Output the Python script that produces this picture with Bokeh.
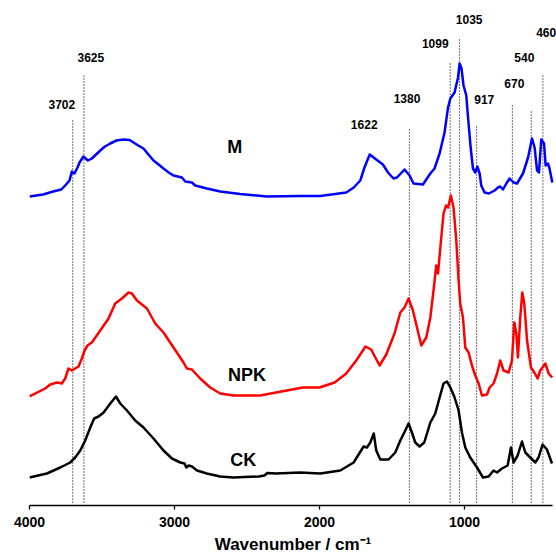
from bokeh.plotting import figure
from bokeh.models import Range1d, FixedTicker
from bokeh.core.properties import value
from bokeh.embed import file_html
from bokeh.resources import INLINE

# ---- data (wavenumber cm-1, stacked absorbance) ----
m_wn = [4000, 3906, 3837, 3781, 3754, 3724, 3708, 3690, 3669, 3655, 3628, 3597, 3570, 3512, 3480, 3443,
        3400, 3352, 3310, 3283, 3250, 3214, 3180, 3145, 3110, 3076, 3040, 3007, 2949, 2926, 2880, 2857,
        2777, 2685, 2547, 2363, 2133, 1995, 1816,
        1764, 1719, 1690, 1654, 1609, 1563, 1528, 1490, 1466, 1414, 1379, 1352, 1287, 1236, 1207, 1172,
        1138, 1114, 1098, 1069, 1045, 1034, 1021, 1007, 988, 976, 958, 942, 926, 912, 896, 885, 862, 832,
        793, 769, 754, 735, 712, 689, 662, 638, 597, 562, 535, 517, 500, 487, 471, 452, 441, 425, 414, 395]
m_ab = [3.09, 3.11, 3.14, 3.16, 3.20, 3.25, 3.34, 3.32, 3.38, 3.43, 3.49, 3.45, 3.47, 3.55, 3.59, 3.62,
        3.65, 3.66, 3.655, 3.63, 3.60, 3.57, 3.51, 3.45, 3.41, 3.37, 3.33, 3.30, 3.28, 3.24, 3.23, 3.20,
        3.17, 3.14, 3.115, 3.09, 3.095, 3.095, 3.13,
        3.18, 3.25, 3.38, 3.51, 3.46, 3.41, 3.33, 3.27, 3.28, 3.36, 3.30, 3.22, 3.21, 3.32, 3.37, 3.52,
        3.73, 3.98, 4.07, 4.13, 4.28, 4.42, 4.37, 4.20, 4.10, 3.88, 3.58, 3.37, 3.33, 3.39, 3.32, 3.20, 3.13, 3.12,
        3.15, 3.18, 3.19, 3.16, 3.22, 3.27, 3.23, 3.22, 3.32, 3.48, 3.67, 3.58, 3.35, 3.33, 3.66, 3.62, 3.40, 3.42, 3.37, 3.23]

npk_wn = [4000, 3892, 3857, 3811, 3777, 3754, 3731, 3708, 3662, 3639, 3620, 3600, 3570, 3512, 3455, 3409,
          3363, 3317, 3294, 3259, 3190, 3133, 3076, 3007, 2938, 2915, 2880, 2823, 2754, 2685, 2593, 2409,
          2300, 2115, 2000, 1896, 1816, 1747, 1683, 1644, 1586, 1540, 1483, 1443, 1414, 1386, 1356, 1328,
          1298, 1264, 1236, 1214, 1195, 1183, 1167, 1145, 1128, 1114, 1094, 1076, 1057, 1041, 1030, 1011, 995,
          972, 949, 926, 903, 880, 845, 827, 800, 776, 754, 731, 696, 673, 657, 643, 632, 616, 602, 588,
          569, 542, 519, 496, 478, 443, 420, 395]
npk_ab = [1.09, 1.17, 1.21, 1.23, 1.22, 1.27, 1.37, 1.35, 1.39, 1.47, 1.55, 1.60, 1.63, 1.75, 1.87, 2.02,
          2.07, 2.13, 2.12, 2.05, 1.97, 1.82, 1.73, 1.58, 1.43, 1.37, 1.36, 1.27, 1.18, 1.12, 1.10, 1.10,
          1.13, 1.18, 1.18, 1.23, 1.32, 1.45, 1.59, 1.56, 1.40, 1.51, 1.72, 1.93, 1.98, 2.07, 1.95, 1.78,
          1.60, 1.68, 1.88, 2.15, 2.40, 2.32, 2.58, 2.92, 3.00, 2.98, 3.10, 2.98, 2.65, 2.25, 2.02, 1.88, 1.58,
          1.53, 1.40, 1.30, 1.22, 1.10, 1.11, 1.18, 1.22, 1.32, 1.45, 1.35, 1.33, 1.45, 1.83, 1.72, 1.48, 1.88, 2.13, 2.02,
          1.65, 1.38, 1.33, 1.27, 1.35, 1.42, 1.32, 1.28]

ck_wn = [4000, 3880, 3788, 3719, 3685, 3650, 3616, 3581, 3554, 3524, 3489, 3443, 3404, 3374, 3328, 3271,
         3214, 3145, 3076, 3018, 2960, 2931, 2919, 2903, 2880, 2845, 2777, 2685, 2595, 2420, 2380, 2360,
         2300, 2133, 1995, 1857, 1765, 1696, 1673,
         1650, 1626, 1609, 1581, 1524, 1478, 1443, 1409, 1386, 1363, 1340, 1310, 1278, 1236, 1202, 1172,
         1145, 1121, 1098, 1071, 1041, 1018, 995, 961, 914, 873, 834, 800, 776, 742, 703, 680, 662, 634,
         604, 581, 547, 512, 490, 462, 432, 397]
ck_ab = [0.28, 0.32, 0.38, 0.43, 0.48, 0.55, 0.65, 0.78, 0.87, 0.89, 0.93, 1.02, 1.09, 1.02, 0.95, 0.85,
         0.78, 0.67, 0.55, 0.47, 0.43, 0.42, 0.38, 0.40, 0.39, 0.35, 0.32, 0.29, 0.28, 0.29, 0.30, 0.325,
         0.32, 0.33, 0.32, 0.35, 0.43, 0.59, 0.58,
         0.63, 0.72, 0.55, 0.46, 0.46, 0.53, 0.65, 0.75, 0.82, 0.73, 0.63, 0.59, 0.63, 0.83, 0.92, 1.08,
         1.22, 1.24, 1.18, 1.09, 0.95, 0.73, 0.58, 0.48, 0.38, 0.28, 0.29, 0.35, 0.33, 0.37, 0.40, 0.58, 0.43, 0.50,
         0.64, 0.53, 0.48, 0.43, 0.48, 0.61, 0.56, 0.42]

# marked bands
band_wn = [3702, 3625, 1380, 1099, 1035, 917, 670, 540, 460]
band_top = [3.87, 4.32, 3.77, 4.44, 4.68, 3.80, 4.02, 3.96, 4.31]

# band labels
lab_text = ["3702", "3625", "1622", "1380", "1099", "1035", "917", "670", "540", "460"]
lab_wn = [3777, 3577, 1692, 1397, 1202, 968, 864, 657, 588, 437]
lab_y = [4.01, 4.48, 3.81, 4.07, 4.62, 4.86, 4.06, 4.22, 4.48, 4.73]

# series names
ser_text = ["M", "NPK", "CK"]
ser_wn = [2584, 2501, 2526]
ser_y = [3.59, 1.31, 0.46]

xticks = [4000, 3000, 2000, 1000]

FONT = "Liberation Sans"

p = figure(width=556, height=558, output_backend="svg", toolbar_location=None,
           x_range=Range1d(4000, 366), y_range=Range1d(0, 5.05),
           y_axis_location=None, min_border_left=29, min_border_right=0,
           min_border_top=0, min_border_bottom=53)
p.outline_line_color = None
p.xgrid.visible = False
p.ygrid.visible = False
p.background_fill_color = "white"
p.border_fill_color = "white"

# dotted guide lines
p.segment(x0=band_wn, y0=[0.03] * len(band_wn), x1=band_wn, y1=band_top,
          line_color="#000000", line_width=1.1, line_dash="1 2")

p.line(m_wn, m_ab, line_color="#0000FF", line_width=2.5, line_join="round")
p.line(npk_wn, npk_ab, line_color="#FF0000", line_width=2.5, line_join="round")
p.line(ck_wn, ck_ab, line_color="#000000", line_width=2.5, line_join="round")

p.text(x=lab_wn, y=lab_y, text=lab_text, text_font=value(FONT), text_font_style="bold",
       text_font_size="12px", text_align="center", text_baseline="middle", text_color="black")
p.text(x=ser_wn, y=ser_y, text=ser_text, text_font=value(FONT), text_font_style="bold",
       text_font_size="18px", text_align="center", text_baseline="middle", text_color="black")

ax = p.xaxis[0]
ax.bounds = (395, 4000)
ax.ticker = FixedTicker(ticks=xticks)
ax.minor_tick_line_color = None
ax.major_tick_in = 0
ax.major_tick_out = 4
ax.axis_line_width = 1.3
ax.major_tick_line_width = 1.3
ax.major_label_text_font = FONT
ax.major_label_text_font_style = "bold"
ax.major_label_text_font_size = "14px"
ax.major_label_text_color = "black"
ax.major_label_standoff = 7
ax.axis_label = "Wavenumber / cm\u207b\u00b9"
ax.axis_label_text_font = FONT
ax.axis_label_text_font_style = "bold"
ax.axis_label_text_font_size = "17px"
ax.axis_label_text_color = "black"
ax.axis_label_standoff = 5

open("out.html", "w").write(file_html(p, INLINE))
